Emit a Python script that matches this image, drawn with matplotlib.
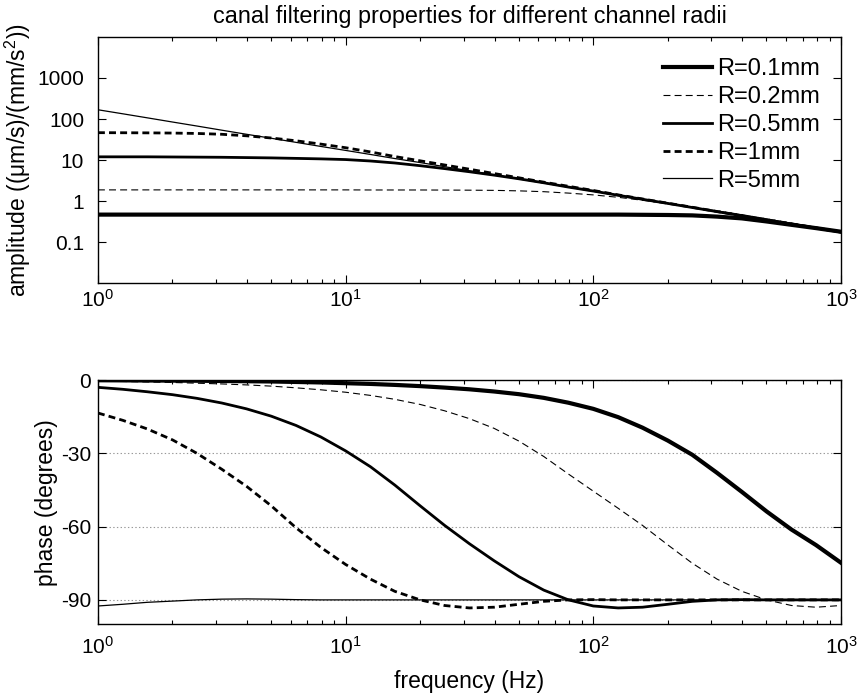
import numpy as np
import matplotlib
matplotlib.use("Agg")
import matplotlib.pyplot as plt
from matplotlib.ticker import FixedLocator, NullLocator, FixedFormatter

plt.rcParams['font.family'] = ['Liberation Sans', 'DejaVu Sans']
plt.rcParams['mathtext.fontset'] = 'custom'
plt.rcParams['mathtext.rm'] = 'Liberation Sans'
plt.rcParams['mathtext.it'] = 'Liberation Sans:italic'
plt.rcParams['lines.scale_dashes'] = False

# frequency grid (Hz), 10 points per decade
freq = [1, 1.26, 1.58, 2, 2.51, 3.16, 3.98, 5.01, 6.31, 7.94,
        10, 12.6, 15.8, 20, 25.1, 31.6, 39.8, 50.1, 63.1, 79.4,
        100, 126, 158, 200, 251, 316, 398, 501, 631, 794, 1000]

labels = ['R=0.1mm', 'R=0.2mm', 'R=0.5mm', 'R=1mm', 'R=5mm']

# amplitude ((um/s)/(mm/s^2))
amp_r01 = [0.47, 0.47, 0.47, 0.47, 0.47, 0.47, 0.47, 0.47, 0.47, 0.47,
           0.47, 0.47, 0.47, 0.47, 0.47, 0.47, 0.47, 0.47, 0.47, 0.47,
           0.47, 0.47, 0.465, 0.46, 0.45, 0.42, 0.38, 0.32, 0.265, 0.22, 0.18]
amp_r02 = [1.88, 1.88, 1.88, 1.88, 1.88, 1.88, 1.88, 1.88, 1.88, 1.88,
           1.88, 1.87, 1.87, 1.87, 1.86, 1.85, 1.83, 1.78, 1.70, 1.57,
           1.42, 1.24, 1.05, 0.87, 0.71, 0.58, 0.47, 0.37, 0.29, 0.23, 0.18]
amp_r05 = [12.0, 12.0, 12.0, 11.9, 11.8, 11.7, 11.5, 11.3, 11.0, 10.7,
           10.3, 9.5, 8.5, 7.3, 6.2, 5.2, 4.3, 3.5, 2.8, 2.2,
           1.76, 1.39, 1.11, 0.88, 0.70, 0.555, 0.44, 0.35, 0.278, 0.221, 0.176]
amp_r1 = [46.5, 46.3, 46.0, 45.5, 44.5, 42.5, 39.0, 34.5, 29.5, 24.5,
          20.0, 15.8, 12.2, 9.6, 7.6, 6.0, 4.7, 3.7, 2.9, 2.3,
          1.82, 1.42, 1.13, 0.89, 0.71, 0.56, 0.445, 0.354, 0.281, 0.223, 0.177]
amp_r5 = [168, 134, 107, 84.5, 67.5, 53.5, 42.5, 34, 27, 21.5,
          17.2, 13.7, 10.9, 8.7, 6.9, 5.5, 4.35, 3.47, 2.76, 2.2,
          1.75, 1.39, 1.11, 0.88, 0.70, 0.556, 0.442, 0.352, 0.28, 0.222, 0.177]

# phase (degrees)
ph_r01 = [-0.1, -0.15, -0.2, -0.25, -0.3, -0.4, -0.5, -0.6, -0.8, -1.0,
          -1.3, -1.6, -2.0, -2.5, -3.1, -3.8, -4.7, -5.8, -7.3, -9.3,
          -11.8, -15.2, -19.5, -24.8, -30.6, -38.0, -45.8, -53.8, -61.2, -67.6, -74.8]
ph_r02 = [-0.5, -0.6, -0.8, -1.0, -1.3, -1.6, -2.0, -2.5, -3.2, -4.0,
          -5.0, -6.3, -7.9, -10.0, -12.6, -15.8, -19.8, -25.0, -31.3, -38.5,
          -45.5, -52.5, -59.5, -67.5, -75.0, -81.5, -86.5, -90.0, -92.3, -93.0, -92.3]
ph_r05 = [-3.0, -3.8, -4.8, -6.0, -7.5, -9.4, -11.8, -14.8, -18.6, -23.3,
          -29.0, -35.5, -43.0, -51.5, -59.5, -67.0, -74.0, -80.5, -86.0, -90.0,
          -92.5, -93.3, -93.0, -91.8, -90.6, -90.0, -89.9, -90.0, -90.0, -90.0, -90.0]
ph_r1 = [-13.5, -16.5, -20.0, -24.5, -30.0, -36.5, -43.5, -51.5, -60.5, -68.5,
         -75.5, -81.5, -86.5, -90.0, -92.3, -93.3, -93.0, -91.8, -90.6, -90.0,
         -89.9, -90.0, -90.0, -90.0, -90.0, -90.0, -90.0, -90.0, -90.0, -90.0, -90.0]
ph_r5 = [-92.5, -91.8, -91.0, -90.5, -90.0, -89.7, -89.6, -89.7, -89.9, -90.0,
         -90.0, -90.0, -90.0, -90.0, -90.0, -90.0, -90.0, -90.0, -90.0, -90.0,
         -90.0, -90.0, -90.0, -90.0, -90.0, -90.0, -90.0, -90.0, -90.0, -90.0, -90.0]

amps = [amp_r01, amp_r02, amp_r05, amp_r1, amp_r5]
phases = [ph_r01, ph_r02, ph_r05, ph_r1, ph_r5]

styles = [dict(lw=3.0, ls='-'),
          dict(lw=0.8, ls=(0, (5, 3))),
          dict(lw=2.0, ls='-'),
          dict(lw=2.0, ls=(0, (5, 3))),
          dict(lw=0.9, ls='-')]

tick_fs = 15
lab_fs = 16.5
fig = plt.figure(figsize=(8.59, 6.96), dpi=100)
ax1 = fig.add_axes([0.114, 0.593, 0.865, 0.354])
ax2 = fig.add_axes([0.114, 0.103, 0.865, 0.351])

for a, p, lab, st in zip(amps, phases, labels, styles):
    ax1.plot(freq, a, color='k', label=lab, **st)
    ax2.plot(freq, p, color='k', **st)

for ax in (ax1, ax2):
    ax.set_xscale('log')
    ax.set_xlim(1, 1000)
    ax.tick_params(which='both', direction='in', top=True, right=True,
                   labelsize=tick_fs, width=0.8)
    ax.tick_params(which='major', length=6, pad=4)
    ax.tick_params(which='minor', length=3)
    for s in ax.spines.values():
        s.set_linewidth(1.0)

ax1.set_yscale('log')
ax1.set_ylim(0.01, 10000)
ax1.yaxis.set_major_locator(FixedLocator([0.1, 1, 10, 100, 1000]))
ax1.yaxis.set_major_formatter(FixedFormatter(['0.1', '1', '10', '100', '1000']))
ax1.yaxis.set_minor_locator(NullLocator())
ax1.tick_params(axis='y', which='major', pad=10)
ax1.set_ylabel('amplitude ((μm/s)/(mm/s$^2$))', fontsize=lab_fs, labelpad=3)
ax1.set_title('canal filtering properties for different channel radii', fontsize=16.8, pad=10)
ax1.legend(loc='upper right', frameon=False, fontsize=17, handlelength=2.1,
           handletextpad=0.2, labelspacing=0.25, borderaxespad=0.5)

ax2.set_ylim(-100, 0)
ax2.set_yticks([-90, -60, -30, 0])
ax2.set_yticklabels(['-90', '-60', '-30', '0'])
ax2.tick_params(axis='y', which='major', pad=5)
ax2.tick_params(axis='x', which='major', pad=8)
ax2.yaxis.grid(True, linestyle=':', color='#999999', linewidth=0.8)
ax2.set_axisbelow(True)
ax2.set_ylabel('phase (degrees)', fontsize=lab_fs, labelpad=2)
ax2.set_xlabel('frequency (Hz)', fontsize=lab_fs, labelpad=9)

fig.savefig('out.png', dpi=100)
